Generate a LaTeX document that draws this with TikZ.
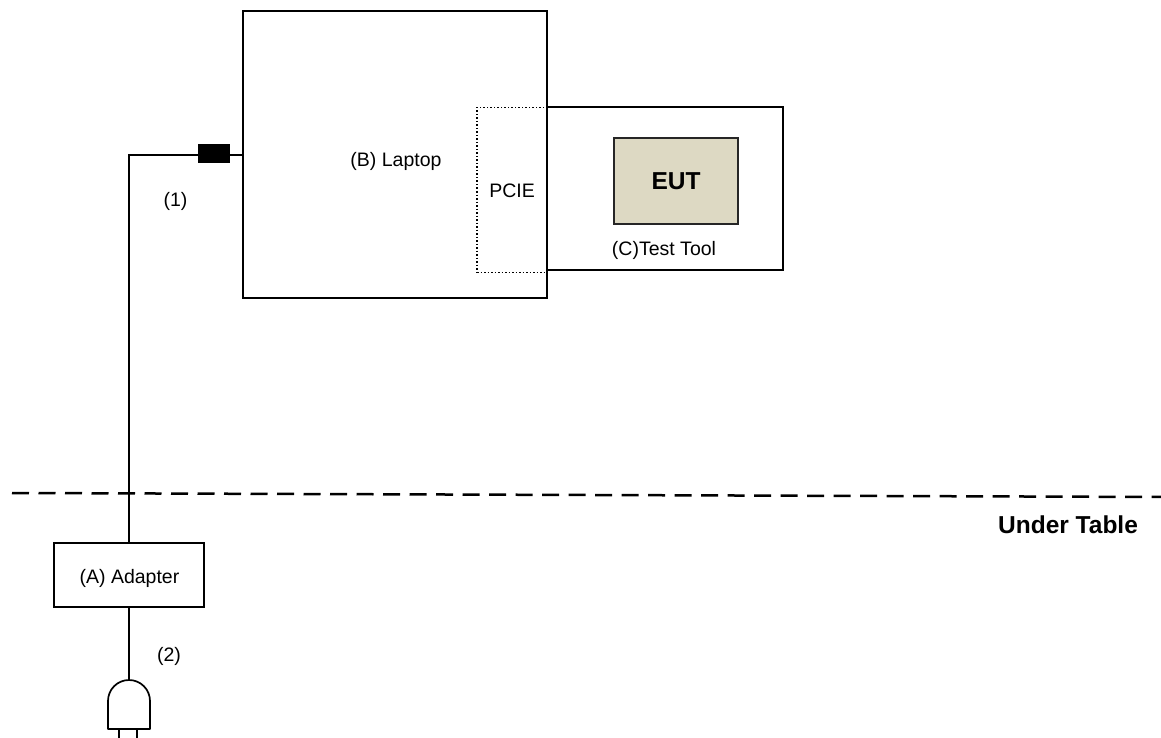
\documentclass[tikz,border=0pt]{standalone}
\usepackage{fontspec}
\setmainfont{Liberation Sans}
\begin{document}
\begin{tikzpicture}[x=1pt,y=-1pt,
  capn/.style={text height=14pt, text depth=0pt, font=\fontsize{19.5}{23}\selectfont},
  capb/.style={text height=17.5pt, text depth=0pt, font=\fontsize{24.5}{29}\selectfont\bfseries},
  box/.style={draw=black, line width=2pt, inner sep=0pt, outer sep=0pt, capn},
  wire/.style={draw=black, line width=1.5pt},
  lbl/.style={inner sep=0pt, capn},
  blbl/.style={inner sep=0pt, capb}]
\definecolor{euttan}{HTML}{DDD9C3}
\useasboundingbox (0,0) rectangle (1161,738);
% PCIE slot (dotted)
\node[box, line width=1.5pt, dotted, minimum width=70pt, minimum height=165pt] (pcie) at (512,190) {PCIE};
% Laptop
\node[box, minimum width=304pt, minimum height=287pt] (laptop) at (395,154.5) {};
\node[lbl] (laptoplbl) at (396,160) {(B) Laptop};
% Test tool
\node[box, minimum width=236pt, minimum height=163pt] (tool) at (665,188.5) {};
\node[lbl] (toollbl) at (664,248.7) {(C)Test Tool};
% EUT
\node[box, draw=black!85, fill=euttan, minimum width=124pt, minimum height=86pt, capb] (eut) at (676,181) {EUT};
% Adapter
\node[box, minimum width=150pt, minimum height=64pt] (adapter) at (129,575) {};
\node[lbl] (adapterlbl) at (129.5,576.3) {(A) Adapter};
% cable (1)
\coordinate (corner) at (129,155);
\draw[wire] (adapter.north) -- (corner) -- (laptop.west |- corner);
\node[fill=black, inner sep=0pt, outer sep=0pt, minimum width=32pt, minimum height=19pt] (conn) at (214,153.5) {};
\node[lbl] (l1) at (175.5,200) {(1)};
% cable (2) and plug
\coordinate (plugtop) at (129,680);
\draw[wire] (adapter.south) -- (plugtop);
\draw[wire, line width=1.7pt, line join=round] (108,729) -- (108,701) arc[start angle=180, end angle=0, radius=21pt] -- (150,729) -- cycle;
\draw[wire, line width=1.7pt] (119,729) -- (119,745);
\draw[wire, line width=1.7pt] (137,729) -- (137,745);
\node[lbl] (l2) at (169,654) {(2)};
% table edge
\coordinate (tl) at (12,493);
\coordinate (tr) at (1170,497);
\draw[line width=2.5pt, dash pattern=on 17pt off 9.5pt] (tl) -- (tr);
\node[blbl] (under) at (1068,525) {Under Table};
\end{tikzpicture}
\end{document}
